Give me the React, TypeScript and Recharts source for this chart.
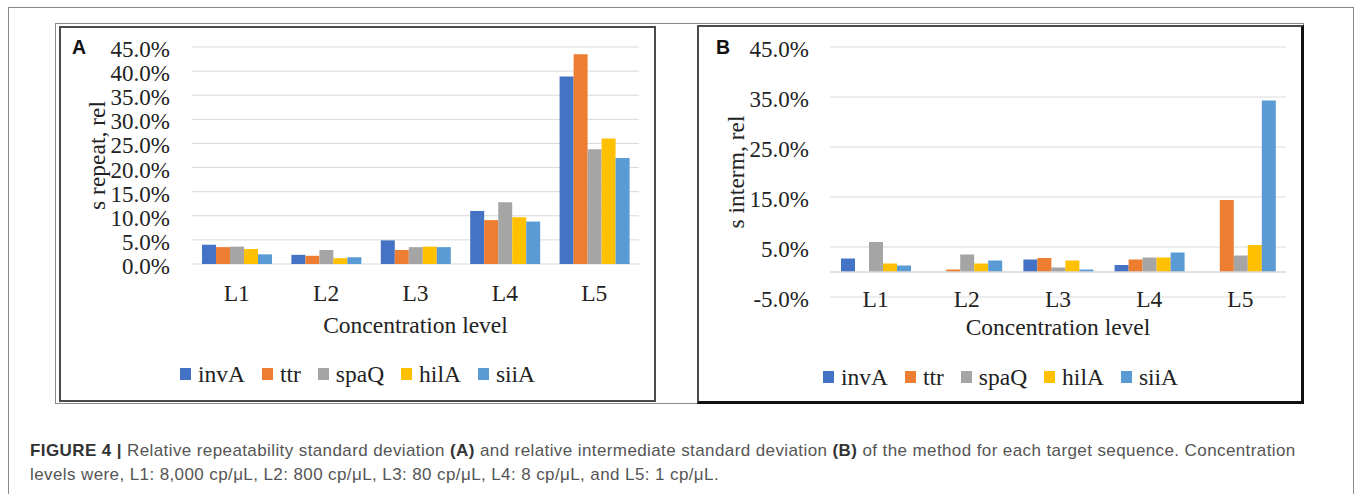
import React from 'react';
import { BarChart, Bar, XAxis, YAxis, CartesianGrid, Legend, ReferenceLine, Label } from 'recharts';

const levels = ['L1', 'L2', 'L3', 'L4', 'L5'];
const genes = ['invA', 'ttr', 'spaQ', 'hilA', 'siiA'];
const geneColors = ['#4472C4', '#ED7D31', '#A5A5A5', '#FFC000', '#5B9BD5'];

// panel A: relative repeatability sd (%)
const repeatInvA = [4.0, 1.9, 4.9, 11.0, 38.9];
const repeatTtr = [3.5, 1.7, 2.9, 9.1, 43.5];
const repeatSpaQ = [3.6, 2.9, 3.5, 12.8, 23.8];
const repeatHilA = [3.1, 1.2, 3.6, 9.7, 26.0];
const repeatSiiA = [2.0, 1.4, 3.5, 8.8, 22.0];
const repeatTicks = [0, 5, 10, 15, 20, 25, 30, 35, 40, 45];

// panel B: relative intermediate sd (%)
const intermInvA = [2.7, 0, 2.5, 1.4, 0];
const intermTtr = [0, 0.5, 2.8, 2.5, 14.4];
const intermSpaQ = [6.0, 3.5, 0.9, 2.9, 3.3];
const intermHilA = [1.7, 1.7, 2.3, 2.9, 5.4];
const intermSiiA = [1.3, 2.3, 0.5, 3.9, 34.3];
const intermTicks = [-5, 5, 15, 25, 35, 45];

const SERIF = '"Liberation Serif", "Times New Roman", serif';
const SANS = '"Liberation Sans", Arial, sans-serif';
const TEXT = '#222';
const GRID = '#d9d9d9';

function buildRows(series: number[][]) {
  return levels.map((level, i) => {
    const row: Record<string, string | number> = { level };
    genes.forEach((g, j) => {
      row[g] = series[j][i];
    });
    return row;
  });
}

const repeatRows = buildRows([repeatInvA, repeatTtr, repeatSpaQ, repeatHilA, repeatSiiA]);
const intermRows = buildRows([intermInvA, intermTtr, intermSpaQ, intermHilA, intermSiiA]);

const GeneLegend = () => (
  <div
    style={{
      display: 'flex',
      justifyContent: 'center',
      alignItems: 'center',
      height: 30,
      fontFamily: SERIF,
      fontSize: 23.5,
      color: TEXT,
    }}
  >
    {genes.map((g, i) => (
      <span key={g} style={{ display: 'flex', alignItems: 'center', marginLeft: i ? 17 : 0 }}>
        <span style={{ width: 11, height: 12, background: geneColors[i], marginRight: 7 }} />
        {g}
      </span>
    ))}
  </div>
);

interface PanelProps {
  rows: Record<string, string | number>[];
  ticks: number[];
  domain: [number, number];
  yTitle: string;
  width: number;
  height: number;
  margin: { top: number; right: number; left: number; bottom: number };
  xAxisHeight: number;
  legendTop: number;
  tickBase: number;
  titleBase: number;
  yTitleX: number;
  yTickMargin: number;
  catGap: number;
  zeroLine?: boolean;
}

const PanelChart: React.FC<PanelProps> = (p) => (
  <BarChart
    width={p.width}
    height={p.height}
    data={p.rows}
    margin={p.margin}
    barGap={0}
    barCategoryGap={p.catGap}
  >
    <CartesianGrid vertical={false} stroke={GRID} />
    <XAxis
      dataKey="level"
      height={p.xAxisHeight}
      axisLine={false}
      tickLine={false}
      tickSize={0}
      tickMargin={0}
      interval={0}
      tick={(t: any) => (
        <text x={t.x} y={t.y + p.tickBase} textAnchor="middle" fontFamily={SERIF} fontSize={23.5} fill={TEXT}>
          {t.payload.value}
        </text>
      )}
    >
      <Label
        content={(l: any) => {
          const vb = l.viewBox || { x: 0, y: 0, width: 0 };
          return (
            <text x={vb.x + vb.width / 2} y={vb.y + p.titleBase} textAnchor="middle" fontFamily={SERIF} fontSize={23.5} fill={TEXT}>
              Concentration level
            </text>
          );
        }}
      />
    </XAxis>
    <YAxis
      width={131}
      domain={p.domain}
      ticks={p.ticks}
      interval={0}
      axisLine={false}
      tickLine={false}
      tickSize={0}
      tickMargin={p.yTickMargin}
      tick={(t: any) => (
        <text x={t.x} y={t.y + 10} textAnchor="end" fontFamily={SERIF} fontSize={23} fill={TEXT}>
          {Number(t.payload.value).toFixed(1)}%
        </text>
      )}
    >
      <Label
        content={(l: any) => {
          const vb = l.viewBox || { y: 0, height: 0 };
          const cy = vb.y + vb.height / 2;
          return (
            <text
              x={p.yTitleX}
              y={cy}
              dy="0.35em"
              transform={`rotate(-90 ${p.yTitleX} ${cy})`}
              textAnchor="middle"
              fontFamily={SERIF}
              fontSize={23.5}
              fill={TEXT}
            >
              {p.yTitle}
            </text>
          );
        }}
      />
    </YAxis>
    {p.zeroLine && <ReferenceLine y={0} stroke={GRID} strokeWidth={1.5} />}
    {genes.map((g, i) => (
      <Bar key={g} dataKey={g} fill={geneColors[i]} isAnimationActive={false} />
    ))}
    <Legend
      verticalAlign="bottom"
      content={() => <GeneLegend />}
      wrapperStyle={{ top: p.legendTop, bottom: 'auto', left: 0, width: p.width, height: 30 }}
    />
  </BarChart>
);

const abs = (left: number, top: number, extra: React.CSSProperties = {}): React.CSSProperties => ({
  position: 'absolute',
  left,
  top,
  boxSizing: 'border-box',
  ...extra,
});

export default function App() {
  return (
    <div style={abs(0, 0, { width: 1357, height: 494, background: '#fff', overflow: 'hidden' })}>
      {/* outer figure frame */}
      <div style={abs(8, 7, { width: 1346, height: 520, border: '1px solid #8a8a8a' })} />
      <div style={abs(55, 23, { width: 1249, height: 381, border: '1px solid #8a8a8a' })} />
      <div style={abs(59, 26, { width: 597, height: 376, border: '2px solid #4a4a4a', background: '#fff' })} />
      <div
        style={abs(697, 25, {
          width: 607,
          height: 379,
          borderLeft: '2px solid #4a4a4a',
          borderTop: '2px solid #4a4a4a',
          borderRight: '3px solid #111',
          borderBottom: '3px solid #111',
          background: '#fff',
        })}
      />

      <div style={abs(61, 28)}>
        <PanelChart
          rows={repeatRows}
          ticks={repeatTicks}
          domain={[0, 45]}
          yTitle="s repeat, rel"
          width={593}
          height={372}
          margin={{ top: 19, right: 15, left: 0, bottom: 0 }}
          xAxisHeight={106}
          legendTop={331}
          tickBase={37}
          titleBase={69}
          yTitleX={36}
          yTickMargin={22}
          catGap={10}
        />
      </div>

      <div style={abs(699, 27)}>
        <PanelChart
          rows={intermRows}
          ticks={intermTicks}
          domain={[-5, 45]}
          yTitle="s interm, rel"
          width={603}
          height={375}
          margin={{ top: 20, right: 16, left: 0, bottom: 0 }}
          xAxisHeight={75}
          legendTop={335}
          tickBase={10}
          titleBase={38}
          yTitleX={37}
          yTickMargin={21}
          catGap={11}
          zeroLine
        />
      </div>

      <div style={abs(72, 37, { fontFamily: SANS, fontWeight: 700, fontSize: 19.5, lineHeight: '20px', color: '#111' })}>A</div>
      <div style={abs(716, 37, { fontFamily: SANS, fontWeight: 700, fontSize: 19.5, lineHeight: '20px', color: '#111' })}>B</div>

      <div
        style={abs(30, 439, {
          fontFamily: SANS,
          fontSize: 17,
          letterSpacing: 0.4,
          lineHeight: '24px',
          color: '#555',
          whiteSpace: 'nowrap',
        })}
      >
        <b style={{ color: '#333' }}>FIGURE 4 |</b> Relative repeatability standard deviation{' '}
        <b style={{ color: '#333' }}>(A)</b> and relative intermediate standard deviation{' '}
        <b style={{ color: '#333' }}>(B)</b> of the method for each target sequence. Concentration
        <br />
        levels were, L1: 8,000 cp/μL, L2: 800 cp/μL, L3: 80 cp/μL, L4: 8 cp/μL, and L5: 1 cp/μL.
      </div>
    </div>
  );
}
